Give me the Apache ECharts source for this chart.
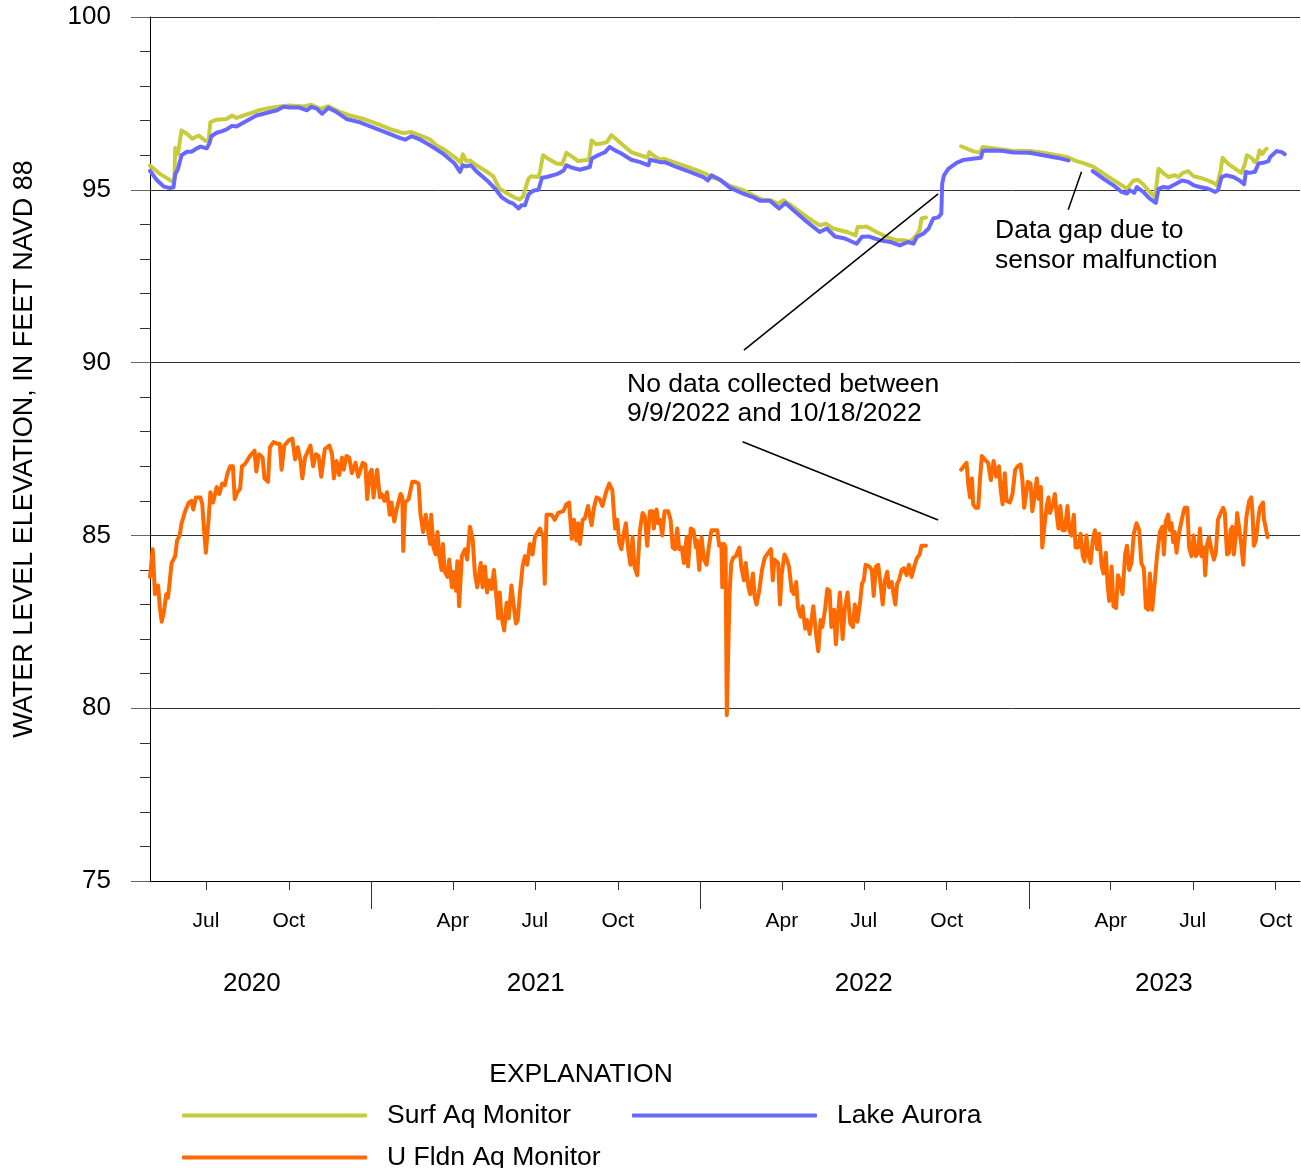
<!DOCTYPE html>
<html>
<head>
<meta charset="utf-8">
<script src="https://cdn.jsdelivr.net/npm/echarts@6/dist/echarts.min.js"></script>
<style>
html,body{margin:0;padding:0;background:#fff;}
#chart{width:1301px;height:1168px;}
</style>
</head>
<body>
<div id="chart"></div>
<script>
// ---------- DATA (day offsets from START date, water level in feet) ----------
const START_DATE = '2020-04-30';
const AXIS_MIN = '2020-04-30';
const AXIS_MAX = '2023-10-28';

const quarterTickDates = ['2020-07-01','2020-10-01','2021-01-01','2021-04-01','2021-07-01','2021-10-01',
  '2022-01-01','2022-04-01','2022-07-01','2022-10-01','2023-01-01','2023-04-01','2023-07-01','2023-10-01'];
const quarterLabelDates = ['2020-07-01','2020-10-01','2021-04-01','2021-07-01','2021-10-01',
  '2022-04-01','2022-07-01','2022-10-01','2023-04-01','2023-07-01','2023-10-01'];
const monthNames = ['Jan','Feb','Mar','Apr','May','Jun','Jul','Aug','Sep','Oct','Nov','Dec'];
const yearTickDates = ['2021-01-01','2022-01-01','2023-01-01'];
const yearLabelDates = ['2020-08-21','2021-07-02','2022-07-01','2023-05-30'];

const surfAq = [[0,95.70],[11,95.46],[24,95.25],[27,95.29],[28,96.21],[31,96.04],[33,96.09],[35,96.72],[41,96.62],[47,96.48],[54,96.57],[62,96.41],[65,96.42],[67,96.96],[74,97.03],[85,97.05],[91,97.15],[96,97.08],[104,97.15],[115,97.25],[122,97.31],[133,97.37],[144,97.41],[155,97.44],[170,97.41],[179,97.46],[189,97.34],[198,97.42],[211,97.25],[222,97.15],[237,97.05],[252,96.91],[266,96.76],[281,96.64],[290,96.67],[303,96.54],[311,96.45],[318,96.28],[325,96.19],[340,95.90],[345,95.78],[347,96.03],[351,95.83],[355,95.85],[362,95.71],[374,95.52],[381,95.39],[383,95.27],[388,95.03],[398,94.87],[405,94.77],[410,94.72],[414,94.81],[417,95.08],[420,95.32],[423,95.39],[431,95.37],[433,95.56],[436,96.00],[440,95.93],[451,95.76],[457,95.74],[459,95.85],[462,96.07],[470,95.93],[475,95.83],[479,95.85],[487,95.87],[490,96.43],[495,96.32],[501,96.34],[507,96.38],[512,96.58],[518,96.45],[525,96.29],[534,96.09],[544,96.00],[552,95.93],[554,96.09],[558,96.00],[566,95.87],[570,95.90],[581,95.80],[595,95.68],[607,95.56],[618,95.45],[621,95.37],[629,95.32],[636,95.23],[643,95.12],[658,94.99],[669,94.84],[679,94.72],[688,94.70],[697,94.60],[703,94.70],[714,94.50],[729,94.21],[743,93.97],[750,94.02],[758,93.88],[773,93.78],[783,93.68],[785,93.92],[790,93.92],[795,93.94],[806,93.78],[817,93.64],[828,93.54],[838,93.54],[843,93.49],[849,93.64],[854,93.83],[856,94.17],[861,94.20],[880,null],[900,96.26],[913,96.12],[921,96.07],[924,96.24],[939,96.19],[958,96.12],[976,96.12],[991,96.07],[1006,96.00],[1017,95.95],[1028,95.83],[1035,95.78],[1047,95.66],[1058,95.47],[1069,95.28],[1078,95.13],[1084,95.03],[1087,95.13],[1091,95.26],[1096,95.29],[1102,95.16],[1109,94.94],[1115,94.79],[1117,95.18],[1119,95.61],[1124,95.49],[1130,95.37],[1137,95.42],[1141,95.37],[1146,95.49],[1152,95.54],[1158,95.39],[1165,95.35],[1172,95.29],[1180,95.20],[1184,95.13],[1188,95.56],[1190,95.93],[1196,95.76],[1204,95.61],[1211,95.49],[1215,95.76],[1217,96.00],[1222,95.93],[1226,95.80],[1229,95.90],[1231,96.14],[1234,96.03],[1237,96.14],[1239,96.19]];

const lakeAurora = [[0,95.55],[7,95.30],[15,95.10],[22,95.05],[26,95.07],[28,95.45],[31,95.60],[35,96.00],[41,96.10],[46,96.10],[52,96.20],[56,96.25],[63,96.20],[66,96.35],[68,96.55],[74,96.65],[80,96.70],[85,96.75],[91,96.85],[96,96.83],[104,96.95],[111,97.05],[118,97.15],[126,97.20],[133,97.25],[141,97.30],[148,97.40],[155,97.38],[166,97.38],[174,97.30],[179,97.40],[185,97.35],[191,97.20],[198,97.37],[207,97.25],[218,97.05],[233,96.95],[248,96.80],[263,96.65],[277,96.50],[283,96.45],[290,96.55],[300,96.45],[311,96.28],[325,96.05],[338,95.76],[344,95.52],[347,95.71],[351,95.68],[356,95.71],[362,95.54],[374,95.27],[383,95.03],[390,94.79],[398,94.65],[403,94.60],[409,94.46],[412,94.55],[416,94.55],[420,94.87],[425,94.97],[431,95.00],[435,95.35],[440,95.37],[447,95.42],[453,95.47],[459,95.56],[462,95.71],[468,95.64],[477,95.58],[488,95.66],[490,95.90],[497,96.00],[505,96.09],[510,96.24],[516,96.14],[523,96.05],[534,95.87],[544,95.80],[553,95.71],[555,95.87],[566,95.80],[571,95.80],[584,95.66],[599,95.52],[614,95.37],[619,95.27],[623,95.42],[632,95.30],[643,95.07],[658,94.89],[669,94.79],[677,94.68],[688,94.68],[698,94.46],[705,94.62],[714,94.41],[729,94.07],[743,93.78],[751,93.88],[760,93.65],[771,93.59],[784,93.44],[790,93.64],[797,93.65],[810,93.54],[821,93.49],[832,93.39],[841,93.49],[847,93.44],[851,93.64],[858,93.73],[864,93.88],[869,94.17],[875,94.21],[878,94.31],[879,95.18],[881,95.42],[886,95.61],[895,95.78],[902,95.86],[913,95.90],[922,95.93],[924,96.13],[936,96.14],[947,96.12],[958,96.08],[976,96.07],[991,96.00],[1006,95.93],[1019,95.85],[1030,null],[1046,95.54],[1058,95.32],[1069,95.13],[1078,94.94],[1084,94.89],[1087,94.99],[1092,94.91],[1095,95.08],[1102,94.94],[1109,94.75],[1116,94.62],[1119,95.03],[1124,95.08],[1130,95.06],[1139,95.18],[1145,95.27],[1152,95.23],[1158,95.13],[1165,95.08],[1174,95.03],[1182,94.94],[1185,94.99],[1189,95.37],[1194,95.42],[1202,95.37],[1209,95.27],[1214,95.16],[1216,95.52],[1220,95.49],[1226,95.52],[1230,95.76],[1235,95.78],[1241,95.83],[1243,95.95],[1250,96.12],[1256,96.09],[1259,96.03]];

const uFldnAq = [[0,83.8],[3,84.6],[5.5,83.3],[9,83.55],[11,82.9],[13,82.5],[15.5,82.8],[18,83.3],[20,83.2],[22,83.7],[24,84.2],[28,84.4],[30,84.85],[33,85.0],[35,85.35],[39,85.7],[43,85.95],[46,86.0],[48,85.75],[51,86.1],[56,86.1],[58,85.9],[60,85.15],[62,84.5],[65,85.45],[67,86.25],[70,85.95],[74,86.4],[77,86.2],[80,86.5],[83,86.45],[86,86.8],[89,87.0],[92,87.0],[94,86.05],[97,86.25],[100,86.35],[102,87.0],[105,87.05],[111,87.3],[116,87.45],[118,86.85],[121,87.35],[125,87.25],[127,86.65],[131,86.55],[133,87.55],[137,87.7],[141,87.65],[144,87.65],[146,86.9],[149,87.6],[154,87.75],[158,87.8],[161,87.2],[164,87.55],[167,87.15],[169,86.65],[172,87.25],[178,87.6],[181,87.0],[184,87.35],[187,87.3],[190,86.7],[194,87.5],[199,87.6],[202,87.35],[204,86.65],[207,87.15],[210,86.75],[213,87.25],[215,86.9],[218,87.3],[221,87.25],[224,86.8],[228,87.1],[231,86.7],[236,87.1],[239,87.05],[241,86.05],[244,86.8],[246,86.9],[248,86.1],[252,86.9],[255,86.1],[257,86.2],[260,86.0],[263,86.25],[266,85.6],[268,85.95],[271,85.4],[274,85.8],[278,86.2],[280,86.1],[281,84.55],[283,85.95],[287,86.05],[291,86.55],[294,86.55],[298,86.5],[300,85.65],[303,85.1],[306,85.6],[309,85.05],[311,84.75],[312,85.6],[314.5,84.65],[317,84.45],[319,85.1],[321,84.4],[323.5,84.0],[325,84.75],[327,83.95],[330,83.8],[332,84.3],[335,83.5],[336.5,83.95],[339.5,83.4],[341,84.25],[343,82.95],[346,84.4],[349.5,84.6],[352,84.3],[355,85.25],[358,84.9],[360.5,83.9],[363,83.5],[367,84.2],[369,83.5],[371.6,84.1],[374,83.35],[376.5,83.7],[379,83.45],[381.6,84.0],[384,83.3],[386.4,82.6],[388,83.35],[390,82.65],[393,82.25],[395.7,83.05],[398,82.6],[401,83.55],[403,83.1],[406,82.45],[408,82.55],[410.5,83.35],[413.4,84.1],[416,84.4],[418.6,84.15],[421.5,84.75],[424.5,84.45],[427,84.95],[432.6,85.2],[436.4,84.95],[438,83.6],[440,85.6],[445.6,85.6],[449,85.45],[453,85.65],[458.5,85.7],[462,85.9],[465,85.95],[468,84.9],[470.4,85.45],[473,84.85],[475,85.35],[477,84.75],[480,85.45],[482.6,85.5],[486,85.85],[490,85.3],[492.6,85.8],[495.5,86.1],[499,86.05],[502,85.85],[506,86.25],[509.6,86.5],[513,86.3],[516,85.2],[518.5,85.45],[520.6,84.8],[523,84.6],[526,85.1],[528,85.35],[530.6,84.6],[533,84.15],[535.5,84.95],[537.6,84.1],[540.6,83.85],[543.6,85.15],[546.5,85.65],[549,85.55],[551.7,84.7],[554.7,85.7],[557.6,85.7],[559,85.2],[562,85.75],[564,85.35],[566,85.45],[568.4,85.0],[571,85.7],[575,85.7],[577.6,85.45],[580,84.65],[582.4,84.6],[585,85.2],[587.2,84.6],[590,84.65],[592.4,84.2],[595.4,84.95],[597,84.1],[600,85.2],[603,85.15],[605.7,84.65],[607,84.85],[609.4,84.0],[612,84.95],[614.6,84.3],[617.6,84.15],[620.5,84.75],[623,85.15],[627,85.15],[629.4,85.15],[631.6,84.7],[634,84.75],[635,83.5],[637,84.75],[638.6,84.65],[640,79.8],[643,83.3],[645,84.2],[647,84.35],[650,84.4],[654,84.65],[656,84.1],[659,83.7],[661,84.2],[664,83.5],[666,83.3],[669,83.9],[671,83.2],[673,83.0],[676,83.4],[679,84.0],[682,84.35],[686,84.5],[689,84.6],[691,83.7],[693,84.3],[697,84.2],[699,83.0],[701,83.9],[704,84.45],[706,84.35],[709,84.1],[712,83.4],[714.5,83.3],[717,83.65],[719,82.9],[722,82.65],[724,82.95],[727,82.3],[729,82.55],[732,82.15],[734,82.55],[736,82.95],[739,82.15],[741.5,81.65],[744,82.55],[746,82.35],[749,82.85],[751.5,83.45],[754,83.4],[756,82.35],[759,82.85],[761,81.85],[764,82.9],[765.5,83.35],[768.5,82.0],[771,82.9],[774,83.35],[777,82.45],[780,82.35],[782,83.0],[785,82.5],[788,83.1],[790,83.6],[792,83.7],[794,84.15],[798,84.1],[801,84.0],[803,83.25],[805.5,84.1],[808,84.15],[811,83.5],[813,83.0],[815.5,83.7],[818,83.95],[820,83.5],[823,83.65],[825,83.3],[827,83.0],[829,83.6],[831,83.7],[834,84.0],[836.5,84.05],[839.5,83.85],[842,84.15],[845,83.8],[848,84.1],[851,84.35],[854,84.45],[856,84.7],[859,84.7],[861,84.7],[880,null],[900,86.9],[903,87.0],[906,87.1],[908,86.45],[910,86.1],[912,86.65],[913.4,85.9],[916,85.8],[919,85.8],[921,86.65],[923,87.3],[926,87.2],[930,87.1],[933,86.6],[936,87.15],[939,86.7],[942,87.0],[944,86.3],[946,85.9],[948.5,86.8],[950.4,86.0],[954,85.95],[957,86.2],[960,86.9],[963,87.0],[966,87.05],[968,86.6],[970,85.8],[972,85.75],[974,86.55],[977,86.5],[979,85.7],[981,86.05],[984,86.65],[986,86.05],[988.5,86.4],[990,84.65],[993,85.4],[995,85.85],[997,86.1],[998.5,85.65],[1000,85.75],[1002,85.9],[1004,86.2],[1006,85.6],[1008,85.2],[1010,85.85],[1012.5,85.15],[1015,85.15],[1018,85.85],[1020,85.15],[1022.5,85.0],[1025,85.6],[1027,84.65],[1030,84.65],[1032.5,85.05],[1035,84.4],[1037,84.25],[1039,85.0],[1041,84.45],[1043.6,84.2],[1046,84.85],[1048.4,85.15],[1051,84.6],[1053,85.05],[1056,84.1],[1058,83.9],[1060.6,84.5],[1062.4,83.6],[1064.3,83.1],[1067,84.1],[1069,82.95],[1072,82.9],[1074,83.85],[1076,83.7],[1079,83.3],[1082,84.45],[1084,84.7],[1086.5,84.0],[1089,84.2],[1091.6,85.05],[1094.6,85.35],[1097.6,85.15],[1100,84.2],[1102.7,84.05],[1105,82.9],[1107.5,82.85],[1109.4,83.9],[1112,82.85],[1115,83.7],[1117.5,84.45],[1120.5,85.1],[1123.4,85.25],[1125,84.45],[1127,85.4],[1129.7,85.6],[1131.6,85.15],[1133.4,85.35],[1135.3,84.8],[1137,85.1],[1139,84.5],[1142,85.1],[1145.6,85.55],[1148,85.8],[1151,85.8],[1153,84.65],[1155.6,84.4],[1158,85.0],[1160.4,84.4],[1163,84.5],[1165,85.2],[1166.7,84.4],[1169.3,84.65],[1170.8,83.85],[1173,84.75],[1175,84.95],[1178,84.55],[1180.4,84.3],[1182.6,84.5],[1185,85.45],[1188,85.65],[1190.7,85.8],[1192.6,85.65],[1195,84.45],[1197.4,84.5],[1199,85.15],[1201,85.25],[1202.6,84.45],[1204.8,85.0],[1206.3,85.65],[1208.5,85.6],[1211,84.7],[1213,84.15],[1214.8,84.95],[1216.6,85.55],[1219.6,86.0],[1222,86.1],[1223.3,85.65],[1224.8,84.7],[1227,84.85],[1229.6,85.45],[1231.4,85.8],[1233.3,85.85],[1235,85.95],[1236,85.45],[1237,85.35],[1239,85.4],[1240,84.95]];

// annotation leader lines: [[day, value], [day, value]]
const annotationLines = [
  [[659, 90.36], [874.5, 94.88]],
  [[657.5, 87.71], [874.5, 85.445]],
  [[1018.8, 94.42], [1033.6, 95.52]]
];

// ---------- BUILD ----------
const DAY = 86400000;
function toTime(s){ const p = s.split('-').map(Number); return new Date(p[0], p[1]-1, p[2]).getTime(); }
const START = toTime(START_DATE);
function build(pairs){ return pairs.map(function(p){ return [START + p[0]*DAY, p[1] === null ? '-' : p[1]]; }); }

const FONT = "'Liberation Sans', Arial, sans-serif";
const C_SURF = '#C8CC3C', C_LAKE = '#6868FF', C_UFLDN = '#FF6A00';

const chart = echarts.init(document.getElementById('chart'), null, {renderer:'canvas'});
const xMin = toTime(AXIS_MIN), xMax = toTime(AXIS_MAX);

const legendCommon = {
  icon: 'roundRect', itemWidth: 185, itemHeight: 4, padding: 0, selectedMode: false,
  textStyle: {fontSize: 26.5, color: '#000', fontFamily: FONT, padding: [0,0,0,15]}
};

const option = {
  animation: false,
  backgroundColor: '#fff',
  textStyle: {fontFamily: FONT},
  grid: {left: 150, right: 1, top: 17, bottom: 287, containLabel: false},
  xAxis: [
    {
      type: 'value', min: xMin, max: xMax, position: 'bottom',
      axisLine: {show: true, lineStyle: {color: '#000', width: 1}},
      axisTick: {show: true, length: 9, lineStyle: {color: '#333'}, customValues: quarterTickDates.map(toTime)},
      axisLabel: {show: true, fontSize: 21, color: '#000', fontFamily: FONT, margin: 30,
        customValues: quarterLabelDates.map(toTime),
        formatter: function(v){ return monthNames[new Date(v).getMonth()]; }},
      splitLine: {show: false}
    },
    {
      type: 'value', min: xMin, max: xMax, position: 'bottom',
      axisLine: {show: false},
      axisTick: {show: true, length: 28, lineStyle: {color: '#333'}, customValues: yearTickDates.map(toTime)},
      axisLabel: {show: false},
      splitLine: {show: false}
    },
    {
      type: 'value', min: xMin, max: xMax, position: 'bottom',
      axisLine: {show: false},
      axisTick: {show: false},
      axisLabel: {show: true, fontSize: 26, color: '#000', fontFamily: FONT, margin: 90,
        customValues: yearLabelDates.map(toTime),
        formatter: function(v){ return String(new Date(v).getFullYear()); }},
      splitLine: {show: false}
    }
  ],
  yAxis: {
    type: 'value', min: 75, max: 100, interval: 5,
    name: 'WATER LEVEL ELEVATION, IN FEET NAVD 88',
    nameLocation: 'middle', nameGap: 112,
    nameTextStyle: {fontSize: 27, color: '#000', fontFamily: FONT},
    axisLine: {show: true, lineStyle: {color: '#000', width: 1}},
    axisTick: {show: true, length: 19, lineStyle: {color: '#666'}},
    minorTick: {show: true, splitNumber: 5, length: 10, lineStyle: {color: '#333'}},
    splitLine: {show: true, lineStyle: {color: '#333', width: 1}},
    axisLabel: {fontSize: 26, color: '#000', fontFamily: FONT, margin: 39}
  },
  legend: [
    Object.assign({data: ['Surf Aq Monitor'], left: 182, top: 1102}, legendCommon),
    Object.assign({data: ['Lake Aurora'], left: 632, top: 1102}, legendCommon),
    Object.assign({data: ['U Fldn Aq Monitor'], left: 182, top: 1144}, legendCommon)
  ],
  graphic: [
    {type: 'text', x: 581, y: 1075, style: {text: 'EXPLANATION', align: 'center', verticalAlign: 'middle', fontSize: 26.5, fill: '#000', fontFamily: FONT}},
    {type: 'text', x: 627, y: 370, style: {text: 'No data collected between\n9/9/2022 and 10/18/2022', fontSize: 26.5, lineHeight: 29, fill: '#000', fontFamily: FONT, verticalAlign: 'top'}},
    {type: 'text', x: 995, y: 216, style: {text: 'Data gap due to\nsensor malfunction', fontSize: 26.5, lineHeight: 30, fill: '#000', fontFamily: FONT, verticalAlign: 'top'}}
  ],
  series: [
    {
      name: 'U Fldn Aq Monitor', type: 'line', xAxisIndex: 0, data: build(uFldnAq),
      showSymbol: false, symbol: 'none', connectNulls: false,
      lineStyle: {color: C_UFLDN, width: 4, join: 'round', cap: 'round'}, itemStyle: {color: C_UFLDN}
    },
    {
      name: 'Surf Aq Monitor', type: 'line', xAxisIndex: 0, data: build(surfAq),
      showSymbol: false, symbol: 'none', connectNulls: false,
      lineStyle: {color: C_SURF, width: 4, join: 'round', cap: 'round'}, itemStyle: {color: C_SURF}
    },
    {
      name: 'Lake Aurora', type: 'line', xAxisIndex: 0, data: build(lakeAurora),
      showSymbol: false, symbol: 'none', connectNulls: false,
      lineStyle: {color: C_LAKE, width: 4, join: 'round', cap: 'round'}, itemStyle: {color: C_LAKE},
      markLine: {
        silent: true, symbol: ['none', 'none'], label: {show: false},
        lineStyle: {color: '#000', width: 1.5, type: 'solid'},
        emphasis: {disabled: true},
        data: annotationLines.map(function(l){
          return [{coord: [START + l[0][0]*DAY, l[0][1]]}, {coord: [START + l[1][0]*DAY, l[1][1]]}];
        })
      }
    }
  ]
};
chart.setOption(option);
</script>
</body>
</html>
